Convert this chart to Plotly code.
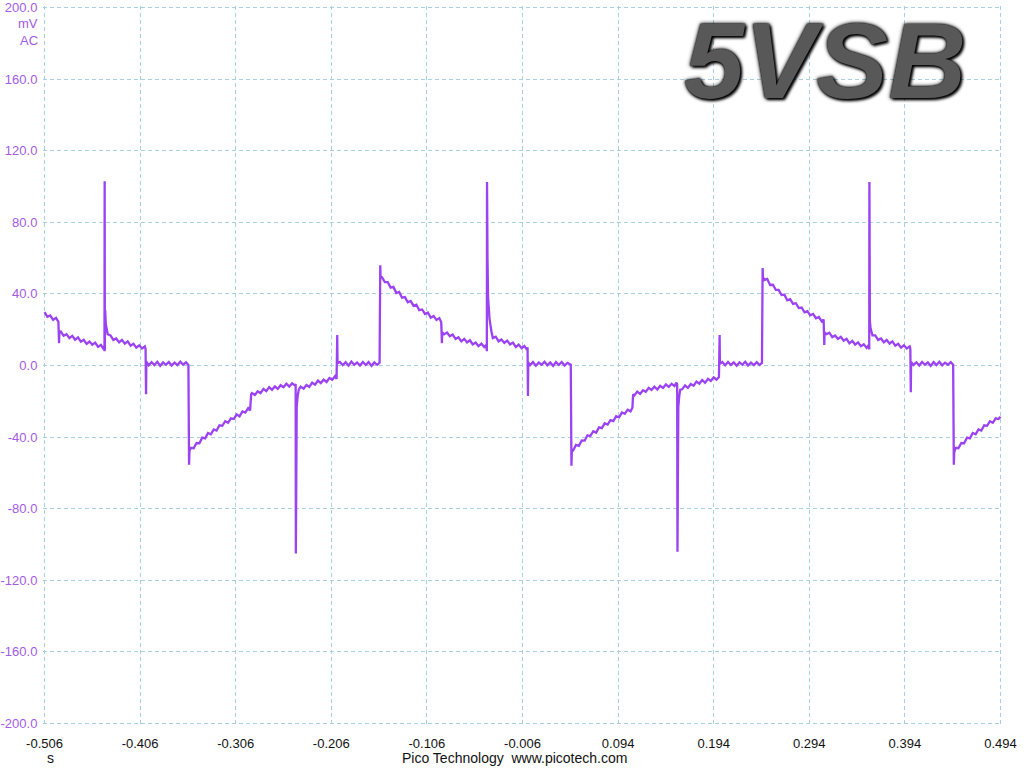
"""
PicoScope capture of the 5VSB rail ripple (AC coupled, mV vs s).
"""

import numpy as np
import plotly.graph_objects as go

# --- captured samples (time in s, ripple in mV), one list pair per cycle ---
t_cycle0 = [
    -0.506, -0.503, -0.500, -0.497, -0.494, -0.4915, -0.4908, -0.4905,
    -0.489, -0.486, -0.483, -0.480, -0.477, -0.474, -0.471, -0.468,
    -0.465, -0.462, -0.459, -0.456, -0.453, -0.450, -0.447, -0.445,
    -0.4435, -0.4433, -0.4431, -0.4429,
]
mv_cycle0 = [
    29.8, 27.2, 27.9, 25.5, 26.6, 24.4, 12.5, 18.6,
    19.0, 16.6, 17.5, 15.3, 16.6, 14.4, 15.7, 13.3,
    14.3, 12.1, 13.4, 11.6, 12.8, 10.4, 11.5, 9.8,
    10.8, 8.0, 103.0, 8.5,
]

t_cycle1 = [
    -0.4426, -0.4419, -0.4409, -0.4399,
    -0.437, -0.434, -0.431, -0.428, -0.425, -0.422, -0.419, -0.416,
    -0.413, -0.410, -0.407, -0.404, -0.401, -0.4003, -0.3998, -0.3995,
    -0.397, -0.394, -0.391, -0.388, -0.385, -0.382, -0.379, -0.376,
    -0.373, -0.370, -0.367, -0.364, -0.361, -0.358, -0.3555, -0.3548, -0.3544,
    -0.353, -0.350, -0.347, -0.344, -0.341, -0.338, -0.335, -0.332,
    -0.329, -0.326, -0.323, -0.320, -0.317, -0.314, -0.311, -0.308,
    -0.305, -0.302, -0.299, -0.296, -0.293, -0.291, -0.2898,
    -0.289, -0.286, -0.283, -0.280, -0.277, -0.274, -0.271, -0.268,
    -0.265, -0.262, -0.259, -0.256, -0.253, -0.250, -0.247, -0.244,
    -0.2433, -0.2431, -0.2428, -0.2422, -0.2412, -0.240,
    -0.238, -0.235, -0.232, -0.229, -0.226, -0.223, -0.220, -0.217,
    -0.214, -0.211, -0.208, -0.205, -0.202, -0.2005, -0.1998, -0.1995,
    -0.197, -0.194, -0.191, -0.188, -0.185, -0.182, -0.179, -0.176,
    -0.173, -0.170, -0.167, -0.164, -0.161, -0.158, -0.1555, -0.1548, -0.1545,
    -0.153, -0.150, -0.147, -0.144, -0.141, -0.138, -0.135, -0.132,
    -0.129, -0.126, -0.123, -0.120, -0.117, -0.114, -0.111, -0.108,
    -0.105, -0.102, -0.099, -0.096, -0.093, -0.091, -0.0903, -0.0900,
    -0.088, -0.085, -0.082, -0.079, -0.076, -0.073, -0.070, -0.067,
    -0.064, -0.061, -0.058, -0.055, -0.052, -0.049, -0.046, -0.044,
    -0.0433, -0.0431, -0.0429,
]
mv_cycle1 = [
    31.0, 23.0, 19.5, 17.5,
    16.8, 14.3, 15.1, 12.9, 14.3, 12.2, 13.5, 11.1,
    12.1, 10.0, 11.3, 9.5, 10.7, 9.2, -16.0, 2.2,
    0.1, 1.9, 0.3, 2.1, -0.2, 1.7, 0.4, 2.0,
    0.0, 1.6, 0.2, 2.1, 0.5, 1.8, 0.3, -55.5, -47.8,
    -46.0, -46.2, -43.3, -43.5, -40.3, -40.7, -37.7, -38.4,
    -35.7, -36.3, -33.4, -33.7, -31.1, -32.0, -29.5, -29.9,
    -27.3, -28.4, -25.7, -26.3, -23.8, -25.1, -16.0,
    -15.4, -16.5, -14.4, -15.5, -13.1, -14.3, -12.1, -13.6,
    -11.7, -13.1, -11.0, -12.1, -10.2, -11.8, -10.0, -11.2,
    -10.3, -105.0, -29.0, -23.0, -17.0, -13.5,
    -11.8, -12.9, -10.9, -12.0, -9.6, -10.7, -8.4, -9.8,
    -7.9, -9.2, -7.0, -8.0, -6.0, -7.6, 17.0, 1.2,
    2.0, 0.2, 1.8, -0.1, 2.2, 0.4, 1.6, 0.0,
    2.0, 0.3, 1.9, -0.2, 1.7, 0.4, 1.5, 56.0, 50.0,
    49.3, 46.6, 46.6, 43.5, 43.9, 40.5, 41.1, 37.9,
    38.2, 35.3, 36.0, 33.4, 34.0, 30.9, 31.3, 28.8,
    29.6, 26.7, 27.7, 25.5, 26.5, 24.2, 12.5, 18.6,
    17.4, 18.4, 16.3, 17.3, 14.8, 15.8, 13.5, 14.9,
    12.9, 14.1, 11.8, 12.8, 10.8, 12.2, 10.3, 11.4,
    8.0, 102.5, 9.0,
]

t_cycle2 = [
    -0.0426, -0.0420, -0.0405, -0.0385,
    -0.037, -0.034, -0.031, -0.028, -0.025, -0.022, -0.019, -0.016,
    -0.013, -0.010, -0.007, -0.004, -0.0015, -0.0007, -0.0003, 0.0000,
    0.002, 0.005, 0.008, 0.011, 0.014, 0.017, 0.020, 0.023,
    0.026, 0.029, 0.032, 0.035, 0.038, 0.041, 0.0445, 0.0452, 0.0456,
    0.047, 0.050, 0.053, 0.056, 0.059, 0.062, 0.065, 0.068,
    0.071, 0.074, 0.077, 0.080, 0.083, 0.086, 0.089, 0.092,
    0.095, 0.098, 0.101, 0.104, 0.107, 0.109, 0.1097,
    0.111, 0.114, 0.117, 0.120, 0.123, 0.126, 0.129, 0.132,
    0.135, 0.138, 0.141, 0.144, 0.147, 0.150, 0.153, 0.155,
    0.1558, 0.1561, 0.1564, 0.1570, 0.1580, 0.1590,
    0.161, 0.164, 0.167, 0.170, 0.173, 0.176, 0.179, 0.182,
    0.185, 0.188, 0.191, 0.194, 0.197, 0.1995, 0.2002, 0.2005,
    0.203, 0.206, 0.209, 0.212, 0.215, 0.218, 0.221, 0.224,
    0.227, 0.230, 0.233, 0.236, 0.239, 0.242, 0.2445, 0.2452, 0.2455,
    0.247, 0.250, 0.253, 0.256, 0.259, 0.262, 0.265, 0.268,
    0.271, 0.274, 0.277, 0.280, 0.283, 0.286, 0.289, 0.292,
    0.295, 0.298, 0.301, 0.304, 0.307, 0.309, 0.3097, 0.3100,
    0.312, 0.315, 0.318, 0.321, 0.324, 0.327, 0.330, 0.333,
    0.336, 0.339, 0.342, 0.345, 0.348, 0.351, 0.354, 0.356,
    0.3567, 0.3569, 0.3571,
]
mv_cycle2 = [
    60.0, 38.0, 26.0, 19.0,
    15.3, 16.1, 13.5, 14.5, 12.6, 13.9, 11.8, 12.8,
    10.3, 11.7, 9.7, 10.9, 8.8, 10.2, -17.0, 1.8,
    0.2, 1.9, -0.1, 1.6, 0.4, 2.1, 0.1, 1.7,
    -0.2, 1.9, 0.3, 2.0, 0.0, 1.5, 0.4, -56.0, -48.0,
    -47.5, -44.4, -44.9, -41.9, -42.0, -39.0, -39.4, -36.7,
    -37.5, -34.6, -35.0, -32.3, -33.0, -30.5, -31.1, -28.3,
    -28.9, -26.3, -27.0, -24.7, -25.6, -23.6, -16.2,
    -16.7, -14.6, -15.9, -13.8, -14.7, -12.5, -13.7, -11.8,
    -13.4, -11.3, -12.5, -10.6, -12.0, -10.2, -11.5, -9.6,
    -10.6, -104.0, -28.5, -23.0, -17.0, -13.5,
    -13.3, -11.1, -12.5, -10.4, -11.3, -9.0, -10.1, -8.1,
    -9.7, -7.5, -8.6, -6.6, -7.9, -6.5, 17.0, 1.0,
    1.9, 0.1, 2.0, 0.3, 1.7, -0.1, 1.8, 0.4,
    2.1, 0.0, 1.6, 0.2, 1.9, 0.3, 1.4, 54.5, 49.5,
    47.8, 48.4, 45.0, 45.1, 42.2, 42.2, 39.4, 39.6,
    36.4, 37.0, 34.4, 34.8, 32.1, 32.4, 29.7, 30.4,
    28.0, 28.8, 26.4, 27.1, 24.7, 25.7, 11.5, 18.5,
    17.5, 18.3, 15.8, 16.8, 14.8, 16.0, 13.9, 14.9,
    12.4, 13.7, 11.7, 12.9, 10.8, 11.8, 9.8, 11.3,
    9.0, 102.5, 9.0,
]

t_cycle3 = [
    0.3574, 0.3581, 0.3591, 0.3601,
    0.363, 0.366, 0.369, 0.372, 0.375, 0.378, 0.381, 0.384,
    0.387, 0.390, 0.393, 0.396, 0.399, 0.3997, 0.4002, 0.4005,
    0.403, 0.406, 0.409, 0.412, 0.415, 0.418, 0.421, 0.424,
    0.427, 0.430, 0.433, 0.436, 0.439, 0.442, 0.4445, 0.4452, 0.4456,
    0.447, 0.450, 0.453, 0.456, 0.459, 0.462, 0.465, 0.468,
    0.471, 0.474, 0.477, 0.480, 0.483, 0.486, 0.489, 0.492, 0.494,
]
mv_cycle3 = [
    24.5, 21.0, 18.0, 16.8,
    16.8, 14.3, 15.1, 12.9, 14.3, 12.2, 13.5, 11.1,
    12.1, 10.0, 11.3, 9.5, 10.7, 9.4, -15.0, 2.0,
    0.3, 1.8, 0.0, 2.0, 0.4, 1.7, -0.2, 1.9,
    0.2, 2.1, 0.1, 1.6, 0.4, 1.9, 0.5, -55.5, -48.5,
    -46.0, -46.2, -43.3, -43.5, -40.3, -40.7, -37.7, -38.4,
    -35.7, -36.3, -33.4, -33.7, -31.1, -32.0, -29.5, -29.9, -28.6,
]

x_ticks = [-0.506, -0.406, -0.306, -0.206, -0.106, -0.006, 0.094, 0.194, 0.294, 0.394, 0.494]
x_labels = ["-0.506", "-0.406", "-0.306", "-0.206", "-0.106", "-0.006",
            "0.094", "0.194", "0.294", "0.394", "0.494"]
y_ticks = [-200, -160, -120, -80, -40, 0, 40, 80, 120, 160, 200]
y_labels = ["-200.0", "-160.0", "-120.0", "-80.0", "-40.0", "0.0",
            "40.0", "80.0", "120.0", "160.0", "200.0"]

TRACE = "#9b42f3"
LABEL = "#a35ae6"
GRID = "#a9d0e0"
FONT = "Liberation Sans, Arial, sans-serif"

# plot box in page pixels (ranges padded ~1.5px so the edge grid lines survive)
L, R, T, B = 43, 22, 6, 43
PW, PH = 1024 - L - R, 768 - T - B


def px(xpage):
    return (xpage - L) / PW


def py(ypage):
    return (768 - B - ypage) / PH


t_all = np.concatenate([t_cycle0, t_cycle1, t_cycle2, t_cycle3])
mv_all = np.concatenate([mv_cycle0, mv_cycle1, mv_cycle2, mv_cycle3])

fig = go.Figure()
fig.add_trace(go.Scatter(
    x=t_all, y=mv_all, mode="lines",
    line=dict(color=TRACE, width=2.3),
    hoverinfo="skip", showlegend=False,
))

fig.update_layout(
    width=1024, height=768,
    paper_bgcolor="white", plot_bgcolor="white",
    margin=dict(l=L, r=R, t=T, b=B),
    font=dict(family=FONT, size=13, color="#111111"),
)

fig.update_xaxes(
    range=[-0.5076, 0.4956], tickvals=x_ticks, ticktext=x_labels,
    showgrid=True, gridcolor=GRID, griddash="4px,3px", gridwidth=1,
    zeroline=False, showline=False, automargin=False,
    ticks="outside", ticklen=6, tickcolor="rgba(0,0,0,0)",
    tickfont=dict(family=FONT, size=13, color="#111111"),
)
fig.update_yaxes(
    range=[-200.85, 200.85], tickvals=y_ticks, ticktext=y_labels,
    showgrid=True, gridcolor=GRID, griddash="4px,3px", gridwidth=1,
    zeroline=False, showline=False, automargin=False,
    ticks="outside", ticklen=2, tickcolor="rgba(0,0,0,0)",
    tickfont=dict(family=FONT, size=13, color=LABEL),
)

# channel units under the top y label
for text, ypage in [("mV", 24), ("AC", 40)]:
    fig.add_annotation(
        text=text, xref="paper", yref="paper",
        x=px(40), y=py(ypage), xanchor="right", yanchor="middle",
        showarrow=False, font=dict(family=FONT, size=13, color=LABEL),
    )

# bottom captions
fig.add_annotation(
    text="s", xref="paper", yref="paper", x=px(45), y=py(758),
    xanchor="left", yanchor="middle", showarrow=False,
    font=dict(family=FONT, size=14, color="#111111"),
)
fig.add_annotation(
    text="Pico Technology &nbsp;www.picotech.com", xref="paper", yref="paper",
    x=px(514), y=py(758), xanchor="center", yanchor="middle",
    showarrow=False, font=dict(family=FONT, size=14, color="#111111"),
)

# big rail name
fig.add_annotation(
    text="<b><i>5VSB</i></b>", xref="paper", yref="paper",
    x=px(825), y=py(61), xanchor="center", yanchor="middle",
    showarrow=False,
    font=dict(family=FONT, size=108, color="#585858",
              shadow="0px 0px 2px #000000, 0px 0px 4px #000000, 2px 2px 3px #000000"),
)

# drop the default 8px body margin so the 1024x768 figure fills the window
fig.write_html(
    "out.html",
    config={"displayModeBar": False},
    post_script="document.body.style.margin = '0';",
)
